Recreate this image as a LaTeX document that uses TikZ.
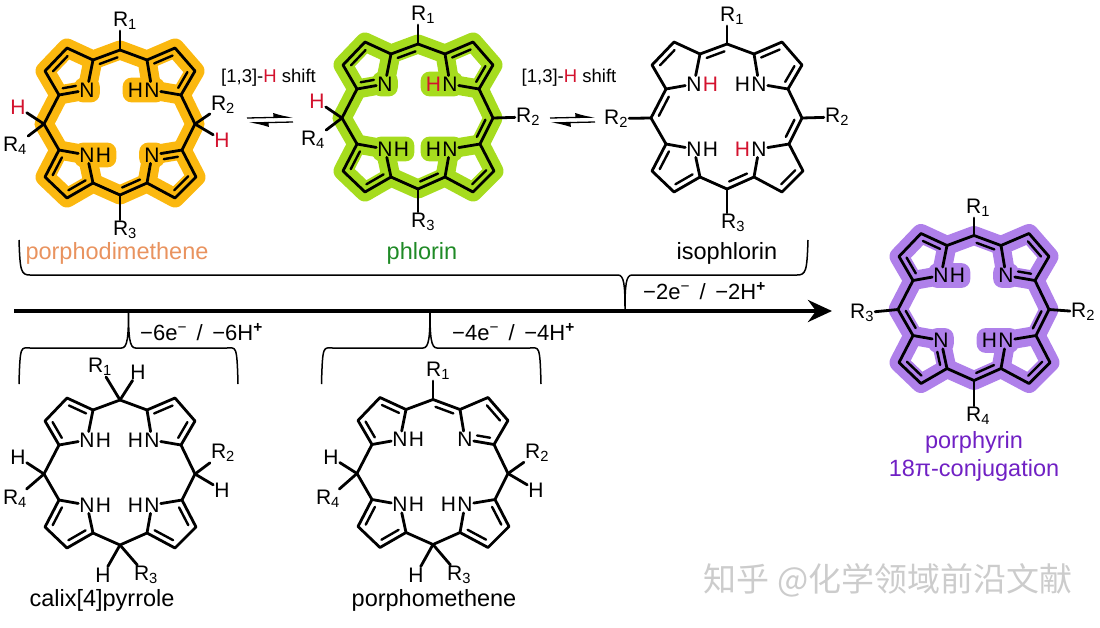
\documentclass[tikz,border=0pt]{standalone}
\usepackage{fontspec}
\setmainfont{Liberation Sans}
\newfontfamily\cjkfont{Noto Sans CJK SC}
\usetikzlibrary{positioning, calc, fit, backgrounds, arrows.meta}
\definecolor{amber}{HTML}{FBB80F}
\definecolor{lime}{HTML}{A6DC1E}
\definecolor{violet}{HTML}{AF80EA}
\definecolor{hred}{HTML}{D3122E}
\definecolor{peach}{HTML}{E9935F}
\definecolor{leaf}{HTML}{1F8A26}
\definecolor{plum}{HTML}{7020C4}
\tikzset{
	bond/.style={line width=2.8pt, line join=round, line cap=round},
	thin bond/.style={line width=2.4pt, line cap=round},
	glow/.style={line width=19pt, line join=round, line cap=round},
	blob/.style={rounded corners=9pt, inner sep=4pt},
	atom/.style={inner sep=1pt, font=\fontsize{21}{21}\selectfont},
	caption/.style={inner sep=0pt, font=\fontsize{23.5}{25}\selectfont},
	shift label/.style={inner sep=0pt, font=\fontsize{18.5}{20}\selectfont},
	charge/.style={inner sep=0pt, anchor=west, font=\fontsize{22}{23}\selectfont},
	curly/.style={line width=1.5pt},
	eqarrow/.style={line width=1.3pt},
}
% atoms of the ring around a centre
\newcommand{\ringatoms}[3]{
	\begin{scope}[shift={(#2,#3)}]
		\coordinate (#1t) at (0,-73);
		\coordinate (#1r) at (75,1);
		\coordinate (#1b) at (0,72);
		\coordinate (#1l) at (-76,1);
		\coordinate (#1Aa) at (-27,-63);
		\coordinate (#1Ab) at (-53,-75);
		\coordinate (#1Ac) at (-75,-52);
		\coordinate (#1Ad) at (-61,-28);
		\coordinate (#1AN) at (-33,-33);
		\coordinate (#1Ba) at (27,-63);
		\coordinate (#1Bb) at (55,-75);
		\coordinate (#1Bc) at (75,-52);
		\coordinate (#1Bd) at (61,-28);
		\coordinate (#1BN) at (32,-33);
		\coordinate (#1Ca) at (27,60);
		\coordinate (#1Cb) at (55,75);
		\coordinate (#1Cc) at (76,54);
		\coordinate (#1Cd) at (62,27);
		\coordinate (#1CN) at (32,32);
		\coordinate (#1Da) at (-27,60);
		\coordinate (#1Db) at (-53,75);
		\coordinate (#1Dc) at (-75,54);
		\coordinate (#1Dd) at (-61,27);
		\coordinate (#1DN) at (-33,32);
	\end{scope}
}
% outline of the ring
\newcommand{\ringpath}[1]{(#1t) -- (#1Aa) -- (#1Ab) -- (#1Ac) -- (#1Ad) -- (#1l) -- (#1Dd) -- (#1Dc) -- (#1Db) -- (#1Da) -- (#1b) -- (#1Ca) -- (#1Cb) -- (#1Cc) -- (#1Cd) -- (#1r) -- (#1Bd) -- (#1Bc) -- (#1Bb) -- (#1Ba) -- cycle}
% pyrrole nitrogens: #2 is the quadrant
\newcommand{\Nonly}[2]{\node[atom] (#1#2n) at (#1#2N) {N};}
\newcommand{\NH}[3][black]{\node[atom] (#2#3n) at (#2#3N) {N}; \node[atom, right=-1pt of #2#3n, text=#1] (#2#3h) {H};}
\newcommand{\HN}[3][black]{\node[atom] (#2#3n) at (#2#3N) {N}; \node[atom, left=-1pt of #2#3n, text=#1] (#2#3h) {H};}
\newcommand{\Nbonds}[1]{
	\draw[bond] (#1Aa) -- (#1An);
	\draw[bond] (#1Ad) -- (#1An);
	\draw[bond] (#1Ba) -- (#1Bn);
	\draw[bond] (#1Bd) -- (#1Bn);
	\draw[bond] (#1Ca) -- (#1Cn);
	\draw[bond] (#1Cd) -- (#1Cn);
	\draw[bond] (#1Da) -- (#1Dn);
	\draw[bond] (#1Dd) -- (#1Dn);
}
\newcommand{\Nglow}[2]{
	\begin{scope}[on background layer]
		\draw[glow, #2] (#1Aa) -- (#1AN) -- (#1Ad);
		\draw[glow, #2] (#1Ba) -- (#1BN) -- (#1Bd);
		\draw[glow, #2] (#1Ca) -- (#1CN) -- (#1Cd);
		\draw[glow, #2] (#1Da) -- (#1DN) -- (#1Dd);
		\draw[glow, #2] \ringpath{#1};
	\end{scope}
}
\newcommand{\blobfit}[2]{\begin{scope}[on background layer]\node[blob, fill=#1, fit=#2] {};\end{scope}}
% second line of a double bond, on the right of a->b
\newcommand{\dbl}[2]{\draw[thin bond] ($(#1)!.17!(#2)!6pt!-90:(#2)$) -- ($(#1)!.83!(#2)!6pt!90:(#1)$);}
\newcommand{\dblN}[2]{\draw[thin bond] ($(#1)!.36!(#2)!6pt!-90:(#2)$) -- ($(#1)!.83!(#2)!6pt!90:(#1)$);}
\newcommand{\dblNend}[2]{\draw[thin bond] ($(#1)!.17!(#2)!6pt!-90:(#2)$) -- ($(#1)!.62!(#2)!6pt!90:(#1)$);}
\newcommand{\Rn}[1]{R\textsubscript{#1}}
\newcommand{\chg}[1]{−#1e\textsuperscript{−}\hspace{3.5pt} / \hspace{3.5pt}−#1H\textsuperscript{\textbf{+}}}
\newcommand{\bracket}[6]{\draw[curly] (#1,#4) .. controls ($(#1,#5)+(1,-4)$) and ($(#1,#5)+(2,0)$) .. ($(#1,#5)+(11,0)$) -- ($(#2,#5)+(-7,0)$) .. controls ($(#2,#5)+(-1,0)$) and ($(#2,#6)!.7!(#2,#5)$) .. (#2,#6) .. controls ($(#2,#6)!.7!(#2,#5)$) and ($(#2,#5)+(1,0)$) .. ($(#2,#5)+(7,0)$) -- ($(#3,#5)+(-11,0)$) .. controls ($(#3,#5)+(-2,0)$) and ($(#3,#5)+(-1,-4)$) .. (#3,#4);}
\begin{document}
\begin{tikzpicture}[x=1pt, y=-1pt]
	\useasboundingbox (0,0) rectangle (1100,627);

	% porphodimethene
	\ringatoms{a}{120}{123}
	\Nglow{a}{amber}
	\Nonly{a}{A}
	\HN{a}{B}
	\NH{a}{D}
	\Nonly{a}{C}
	\blobfit{amber}{(aAn)}
	\blobfit{amber}{(aBn)(aBh)}
	\blobfit{amber}{(aDn)(aDh)}
	\blobfit{amber}{(aCn)}
	\draw[bond] \ringpath{a};
	\Nbonds{a}
	\dbl{aAc}{aAb} \dbl{aAa}{at} \dblN{aAN}{aAd}
	\dbl{aBa}{aBb} \dbl{aBc}{aBd}
	\dbl{aDa}{aDb} \dbl{aDc}{aDd}
	\dbl{aCa}{ab} \dbl{aCc}{aCb} \dblN{aCN}{aCd}
	\node[atom] (aR1) at (125,21) {\Rn{1}};
	\node[atom] (aR2) at (223,105) {\Rn{2}};
	\node[atom] (aR3) at (125,230) {\Rn{3}};
	\node[atom] (aR4) at (15,146) {\Rn{4}};
	\node[atom, text=hred] (aHr) at (222,140) {H};
	\node[atom, text=hred] (aHl) at (18,107) {H};
	\draw[bond] (at) -- (aR1.south -| at);
	\draw[bond] (ar) -- (aR2);
	\draw[bond] (ab) -- (aR3.north -| ab);
	\draw[bond] (al) -- (aR4);
	\draw[bond] (ar) -- (aHr);
	\draw[bond] (al) -- (aHl);
	\node[caption, text=peach] (aname) at (117,253) {porphodimethene};

	% phlorin
	\ringatoms{b}{418}{117}
	\Nglow{b}{lime}
	\Nonly{b}{A}
	\HN[hred]{b}{B}
	\NH{b}{D}
	\HN{b}{C}
	\blobfit{lime}{(bAn)}
	\blobfit{lime}{(bBn)(bBh)}
	\blobfit{lime}{(bDn)(bDh)}
	\blobfit{lime}{(bCn)(bCh)}
	\draw[bond] \ringpath{b};
	\Nbonds{b}
	\dbl{bAc}{bAb} \dbl{bAa}{bt} \dblN{bAN}{bAd}
	\dbl{bBa}{bBb} \dbl{bBc}{bBd}
	\dbl{bDa}{bDb} \dbl{bDc}{bDd}
	\dbl{bCa}{bb} \dbl{bCc}{bCb} \dbl{br}{bCd}
	\node[atom] (bR1) at (423,15) {\Rn{1}};
	\node[atom] (bR2) at (528,117) {\Rn{2}};
	\node[atom] (bR3) at (423,222) {\Rn{3}};
	\node[atom] (bR4) at (313,140) {\Rn{4}};
	\node[atom, text=hred] (bHl) at (317,101) {H};
	\draw[bond] (bt) -- (bR1.south -| bt);
	\draw[bond] (br) -- (bR2);
	\draw[bond] (bb) -- (bR3.north -| bb);
	\draw[bond] (bl) -- (bR4);
	\draw[bond] (bl) -- (bHl);
	\node[caption, text=leaf] (bname) at (422,253) {phlorin};

	% isophlorin
	\ringatoms{c}{727}{117}
	\NH[hred]{c}{A}
	\HN{c}{B}
	\NH{c}{D}
	\HN[hred]{c}{C}
	\draw[bond] \ringpath{c};
	\Nbonds{c}
	\dbl{cAc}{cAb} \dbl{cAa}{ct} \dbl{cl}{cAd}
	\dbl{cBa}{cBb} \dbl{cBc}{cBd}
	\dbl{cDa}{cDb} \dbl{cDc}{cDd}
	\dbl{cCa}{cb} \dbl{cCc}{cCb} \dbl{cr}{cCd}
	\node[atom] (cR1) at (732,16) {\Rn{1}};
	\node[atom] (cR2) at (837,117) {\Rn{2}};
	\node[atom] (cR3) at (733,223) {\Rn{3}};
	\node[atom] (cR2l) at (616,118.5) {\Rn{2}};
	\draw[bond] (ct) -- (cR1.south -| ct);
	\draw[bond] (cr) -- (cR2);
	\draw[bond] (cb) -- (cR3.north -| cb);
	\draw[bond] (cl) -- (cR2l);
	\node[caption] (cname) at (727,253) {isophlorin};

	% porphyrin
	\ringatoms{d}{974}{308.5}
	\Nglow{d}{violet}
	\NH{d}{A}
	\Nonly{d}{B}
	\HN{d}{C}
	\Nonly{d}{D}
	\blobfit{violet}{(dAn)(dAh)}
	\blobfit{violet}{(dBn)}
	\blobfit{violet}{(dCn)(dCh)}
	\blobfit{violet}{(dDn)}
	\draw[bond] \ringpath{d};
	\Nbonds{d}
	\dbl{dAb}{dAa} \dbl{dAd}{dAc} \dbl{dt}{dBa}
	\dblNend{dBd}{dBN} \dbl{dBb}{dBc} \dbl{dr}{dCd}
	\dbl{dCa}{db} \dbl{dCc}{dCb}
	\dblN{dDN}{dDa} \dbl{dDb}{dDc} \dbl{dDd}{dl}
	\node[atom] (dR1) at (978,208) {\Rn{1}};
	\node[atom] (dR2) at (1083,312) {\Rn{2}};
	\node[atom] (dR3) at (862,313) {\Rn{3}};
	\node[atom] (dR4) at (978,416) {\Rn{4}};
	\draw[bond] (dt) -- (dR1.south -| dt);
	\draw[bond] (dr) -- (dR2);
	\draw[bond] (dl) -- (dR3);
	\draw[bond] (db) -- (dR4.north -| db);
	\node[caption, text=plum] (dname) at (974,442) {porphyrin};
	\node[caption, text=plum] (dconj) at (974,470) {18π-conjugation};

	% calix[4]pyrrole
	\ringatoms{e}{120}{473}
	\NH{e}{A}
	\HN{e}{B}
	\NH{e}{D}
	\HN{e}{C}
	\draw[bond] \ringpath{e};
	\Nbonds{e}
	\dbl{eAd}{eAc} \dbl{eAb}{eAa}
	\dbl{eBa}{eBb} \dbl{eBc}{eBd}
	\dbl{eDa}{eDb} \dbl{eDc}{eDd}
	\dbl{eCb}{eCa} \dbl{eCd}{eCc}
	\node[atom] (eR1) at (100,367) {\Rn{1}};
	\node[atom] (eH1) at (138,372) {H};
	\node[atom] (eR2) at (223,453) {\Rn{2}};
	\node[atom] (eH2) at (222,490) {H};
	\node[atom] (eR3) at (146,575) {\Rn{3}};
	\node[atom] (eH3) at (103,575) {H};
	\node[atom] (eR4) at (15,499) {\Rn{4}};
	\node[atom] (eH4) at (18,457) {H};
	\draw[bond] (et) -- (eR1);
	\draw[bond] (et) -- (eH1);
	\draw[bond] (er) -- (eR2);
	\draw[bond] (er) -- (eH2);
	\draw[bond] (eb) -- (eR3);
	\draw[bond] (eb) -- (eH3);
	\draw[bond] (el) -- (eR4);
	\draw[bond] (el) -- (eH4);
	\node[caption] (ename) at (102,600) {calix[4]pyrrole};

	% porphomethene
	\ringatoms{f}{433}{472.5}
	\NH{f}{A}
	\Nonly{f}{B}
	\NH{f}{D}
	\HN{f}{C}
	\draw[bond] \ringpath{f};
	\Nbonds{f}
	\dbl{fAb}{fAa} \dbl{fAd}{fAc} \dbl{ft}{fBa}
	\dblNend{fBd}{fBN} \dbl{fBb}{fBc}
	\dbl{fDa}{fDb} \dbl{fDc}{fDd}
	\dbl{fCb}{fCa} \dbl{fCd}{fCc}
	\node[atom] (fR1) at (438,371) {\Rn{1}};
	\node[atom] (fR2) at (537,453) {\Rn{2}};
	\node[atom] (fH2) at (536,490) {H};
	\node[atom] (fR3) at (459,575) {\Rn{3}};
	\node[atom] (fH3) at (416,575) {H};
	\node[atom] (fR4) at (328,499) {\Rn{4}};
	\node[atom] (fH4) at (331,457) {H};
	\draw[bond] (ft) -- (fR1.south -| ft);
	\draw[bond] (fr) -- (fR2);
	\draw[bond] (fr) -- (fH2);
	\draw[bond] (fb) -- (fR3);
	\draw[bond] (fb) -- (fH3);
	\draw[bond] (fl) -- (fR4);
	\draw[bond] (fl) -- (fH4);
	\node[caption] (fname) at (434,600) {porphomethene};

	% equilibrium arrows
	\node[shift label] (shift1) at (268.5,78) {[1,3]-\textcolor{hred}{H} shift};
	\node[shift label] (shift2) at (569,78) {[1,3]-\textcolor{hred}{H} shift};
	\coordinate (eq1a) at (247,118);
	\coordinate (eq1b) at (294,117);
	\coordinate (eq1c) at (293,122);
	\coordinate (eq1d) at (248,123);
	\draw[eqarrow, -{Latex[left, length=17pt, width=9pt]}] (eq1a) -- (eq1b);
	\draw[eqarrow, -{Latex[left, length=17pt, width=9pt]}] (eq1c) -- (eq1d);
	\coordinate (eq2a) at (550,118);
	\coordinate (eq2b) at (596,117);
	\coordinate (eq2c) at (595,122);
	\coordinate (eq2d) at (550,123);
	\draw[eqarrow, -{Latex[left, length=17pt, width=9pt]}] (eq2a) -- (eq2b);
	\draw[eqarrow, -{Latex[left, length=17pt, width=9pt]}] (eq2c) -- (eq2d);

	% main arrow and brackets
	\coordinate (start) at (14,311);
	\coordinate (end) at (832,311);
	\draw[line width=4pt, -{Stealth[length=24pt, width=22pt, inset=8pt]}] (start) -- (end);
	\bracket{19}{625}{808}{240}{275}{309}
	\bracket{19}{128.5}{238}{384}{348}{311}
	\bracket{321.5}{430}{541}{384}{348}{311}
	\node[charge] (two) at (643,291) {\chg{2}};
	\node[charge] (six) at (140,332) {\chg{6}};
	\node[charge] (four) at (452,332) {\chg{4}};

	\node[inner sep=0pt, text=black!20, font=\cjkfont\fontsize{33}{35}\selectfont] (mark) at (888,580) {知乎 @化学领域前沿文献};
\end{tikzpicture}
\end{document}
